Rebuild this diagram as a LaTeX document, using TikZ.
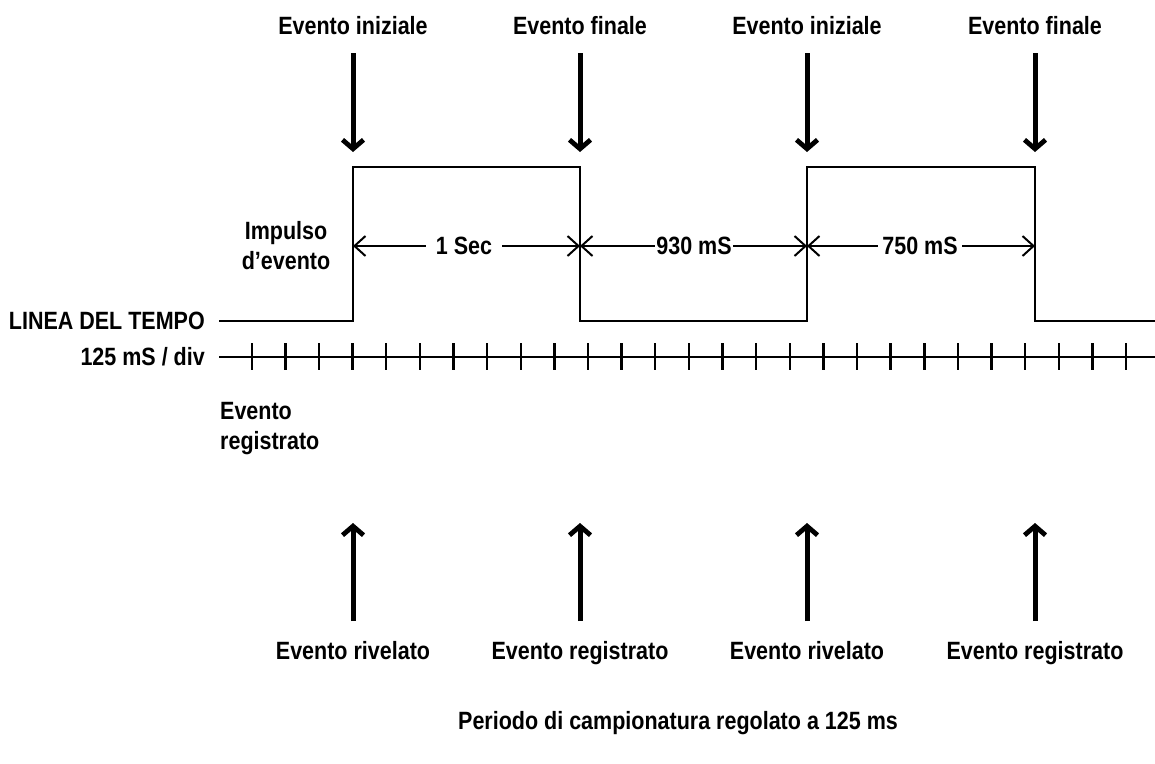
\documentclass[tikz,border=0pt]{standalone}
\usepackage{fontspec}
\setmainfont{Liberation Sans}[FakeStretch=0.86]
\usetikzlibrary{arrows.meta}
\tikzset{
  lbl/.style={font=\fontsize{25}{30}\selectfont\bfseries, inner sep=0pt},
  sig/.style={line width=2.6pt, line join=miter},
  bigarrow/.style={line width=5pt, -{Straight Barb[length=9pt,width=21pt,line width=4.8pt]}},
  dim/.style={line width=2pt, {Straight Barb[length=11pt,width=20pt]}-{Straight Barb[length=11pt,width=20pt]}},
  dimlbl/.style={lbl, fill=white, inner ysep=2pt},
  tick/.style={line width=2.4pt}
}
\begin{document}
\begin{tikzpicture}[x=1pt,y=-1pt]
\useasboundingbox (0,0) rectangle (1155,763);
% key x positions
\def\xa{353}\def\xb{580}\def\xc{807}\def\xd{1035}
% signal coordinates
\coordinate (s0) at (219,321);
\coordinate (r1b) at (\xa,321); \coordinate (r1t) at (\xa,167);
\coordinate (f1t) at (\xb,167); \coordinate (f1b) at (\xb,321);
\coordinate (r2b) at (\xc,321); \coordinate (r2t) at (\xc,167);
\coordinate (f2t) at (\xd,167); \coordinate (f2b) at (\xd,321);
\coordinate (s1) at (1155,321);
\draw[sig] (s0) -- (r1b) -- (r1t) -- (f1t) -- (f1b) -- (r2b) -- (r2t) -- (f2t) -- (f2b) -- (s1);
% time axis
\coordinate (ax0) at (219,357);
\coordinate (ax1) at (1155,357);
\draw[tick] (ax0) -- (ax1);
\foreach \i in {0,...,26} {
  \draw[tick] ({251.7+33.63*\i},343) -- ({251.7+33.63*\i},370);
}
% left labels
\node[lbl, anchor=base east] (linea) at (205,329) {LINEA DEL TEMPO};
\node[lbl, anchor=base east] (div) at (205,365) {125 mS / div};
\node[lbl, align=center] (imp) at (286,246) {Impulso\\d’evento};
\node[lbl, align=left, anchor=base west] (reg) at (220,449) {Evento\\registrato};
% top labels and arrows
\node[lbl, anchor=base] (t1) at (\xa,34) {Evento iniziale};
\node[lbl, anchor=base] (t2) at (\xb,34) {Evento finale};
\node[lbl, anchor=base] (t3) at (\xc,34) {Evento iniziale};
\node[lbl, anchor=base] (t4) at (\xd,34) {Evento finale};
\foreach \x/\n in {\xa/1,\xb/2,\xc/3,\xd/4} {
  \coordinate (ta\n) at (\x,53);
  \coordinate (tb\n) at (\x,152);
  \draw[bigarrow] (ta\n) -- (tb\n);
}
% dimension arrows
\coordinate (d1) at (\xa,246); \coordinate (d2) at (\xb,246);
\coordinate (d3) at (\xc,246); \coordinate (d4) at (\xd,246);
\draw[dim] (d1) -- (d2);
\node[dimlbl, inner xsep=10pt] (sec) at (464,246) {1 Sec};
\draw[dim] (d2) -- (d3);
\node[dimlbl, inner xsep=1pt] (m930) at (694,246) {930 mS};
\draw[dim] (d3) -- (d4);
\node[dimlbl, inner xsep=4pt] (m750) at (920,246) {750 mS};
% bottom arrows and labels
\foreach \x/\n in {\xa/1,\xb/2,\xc/3,\xd/4} {
  \coordinate (ba\n) at (\x,621);
  \coordinate (bb\n) at (\x,523);
  \draw[bigarrow] (ba\n) -- (bb\n);
}
\node[lbl, anchor=base] (b1) at (\xa,659) {Evento rivelato};
\node[lbl, anchor=base] (b2) at (\xb,659) {Evento registrato};
\node[lbl, anchor=base] (b3) at (\xc,659) {Evento rivelato};
\node[lbl, anchor=base] (b4) at (\xd,659) {Evento registrato};
\node[lbl, anchor=base] (per) at (678,729) {Periodo di campionatura regolato a 125 ms};
\end{tikzpicture}
\end{document}
